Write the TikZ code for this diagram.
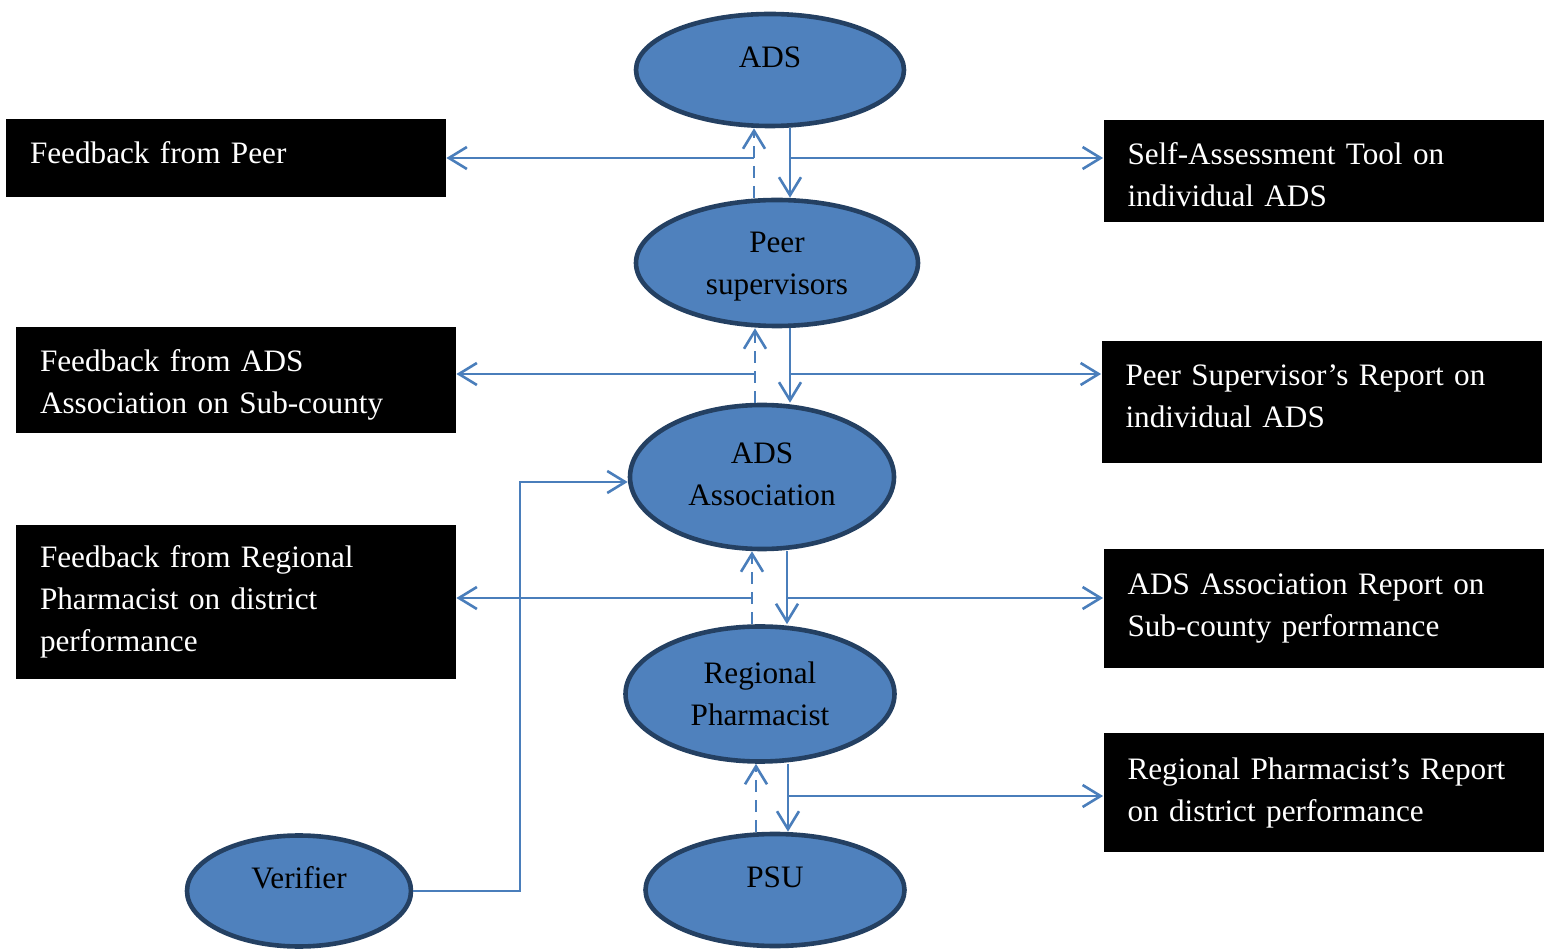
\documentclass[tikz,border=0pt]{standalone}
\usepackage{fontspec}
\setmainfont{Liberation Serif}
\usepackage{tikz}
\usetikzlibrary{arrows.meta,positioning,shapes.geometric}
\definecolor{ovalblue}{RGB}{79,129,189}
\definecolor{ovalnavy}{RGB}{36,64,98}
\definecolor{linkblue}{RGB}{74,126,187}
\tikzset{
  oval/.style={ellipse, draw=ovalnavy, line width=2.3pt, fill=ovalblue, inner sep=0pt,
    align=center, font=\fontsize{15.6}{21}\selectfont},
  oneline/.style={text depth=13pt},
  reportbox/.style={rectangle, fill=black, text=white, inner xsep=12pt, inner ysep=2pt,
    text width=196pt, align=left, font=\fontsize{15.6}{21}\selectfont},
  flow/.style={-{Straight Barb[length=9pt, width=11pt]}, line width=1.3pt, draw=linkblue},
  dashedflow/.style={flow, dash pattern=on 6pt off 4pt}
}
\begin{document}
\begin{tikzpicture}[x=0.5pt, y=-0.5pt]
\useasboundingbox (0,0) rectangle (1548,951);

% ovals down the middle
\node[oval, oneline, minimum width=134pt, minimum height=56pt] (ads) at (770,70) {ADS};
\node[oval, text depth=-4pt, minimum width=141pt, minimum height=63pt] (peer) at (777,263) {Peer\\supervisors};
\node[oval, text depth=3pt, minimum width=132pt, minimum height=72pt] (assoc) at (762,477) {ADS\\Association};
\node[oval, minimum width=134.5pt, minimum height=67.5pt] (regional) at (760,694) {Regional\\Pharmacist};
\node[oval, oneline, minimum width=129.5pt, minimum height=56pt] (psu) at (775,890) {PSU};
\node[oval, oneline, minimum width=112pt, minimum height=55.5pt] (verifier) at (299,891) {Verifier};

% feedback boxes (left) and reports (right)
\node[reportbox, minimum height=39pt, text depth=5pt] (fbpeer) at (226,158) {Feedback from Peer};
\node[reportbox, minimum height=53pt, text depth=19.4pt] (fbads) at (236,380) {Feedback from ADS\\Association on Sub-county};
\node[reportbox, minimum height=77pt] (fbregional) at (236,602) {Feedback from Regional\\Pharmacist on district\\performance};
\node[reportbox, minimum height=51pt, text depth=17pt] (selftool) at (1323.5,171) {Self-Assessment Tool on\\individual ADS};
\node[reportbox, minimum height=61pt, text depth=27pt] (peerreport) at (1321.5,402) {Peer Supervisor’s Report on\\individual ADS};
\node[reportbox, minimum height=59.5pt] (assocreport) at (1323.5,608.5) {ADS Association Report on\\Sub-county performance};
\node[reportbox, minimum height=59.5pt] (regreport) at (1323.5,792.5) {Regional Pharmacist’s Report\\on district performance};

% branch points
\coordinate (m1l) at (754,158);
\coordinate (m1r) at (790,158);
\coordinate (m2l) at (755,374);
\coordinate (m2r) at (790,374);
\coordinate (m3l) at (752,598);
\coordinate (m3r) at (787,598);
\coordinate (m4l) at (756,796);
\coordinate (m4r) at (788,796);
\coordinate (vbend) at (520,482);

% down and up between levels
\draw[flow] (m1r |- ads.south) -- (m1r |- peer.north);
\draw[dashedflow] (m1l |- peer.north) -- (m1l |- ads.south);
\draw[flow] (m2r |- peer.south) -- (m2r |- assoc.north);
\draw[dashedflow] (m2l |- assoc.north) -- (m2l |- peer.south);
\draw[flow] (m3r |- assoc.south) -- (m3r |- regional.north);
\draw[dashedflow] (m3l |- regional.north) -- (m3l |- assoc.south);
\draw[flow] (m4r |- regional.south) -- (m4r |- psu.north);
\draw[dashedflow] (m4l |- psu.north) -- (m4l |- regional.south);

% out to the boxes
\draw[flow] (m1l) -- (m1l -| fbpeer.east);
\draw[flow] (m1r) -- (m1r -| selftool.west);
\draw[flow] (m2l) -- (m2l -| fbads.east);
\draw[flow] (m2r) -- (m2r -| peerreport.west);
\draw[flow] (m3l) -- (m3l -| fbregional.east);
\draw[flow] (m3r) -- (m3r -| assocreport.west);
\draw[flow] (m4r) -- (m4r -| regreport.west);

% verifier
\draw[flow] (verifier.east) -| (vbend) -- (vbend -| assoc.west);
\end{tikzpicture}
\end{document}
